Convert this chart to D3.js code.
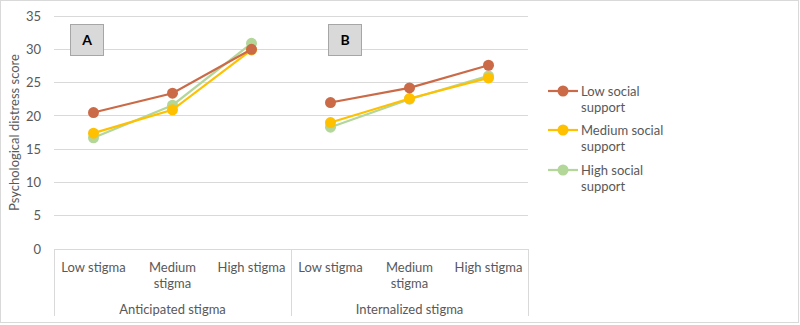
<!DOCTYPE html>
<html><head><meta charset="utf-8">
<script src="https://cdn.jsdelivr.net/npm/d3@7"></script>
<style>
body{margin:0;background:#fff;}
text{font-family:Lato,"Open Sans",sans-serif;}
</style></head>
<body><svg id="c" width="800" height="325"></svg>
<script>
const groups = ["Anticipated stigma", "Internalized stigma"];
const levels = ["Low stigma", "Medium stigma", "High stigma"];
const seriesNames = ["Low social support", "Medium social support", "High social support"];
const lowSupport = [20.5, 23.4, 30.0, 22.0, 24.2, 27.6];
const mediumSupport = [17.4, 20.9, 29.9, 19.0, 22.6, 25.7];
const highSupport = [16.7, 21.6, 30.9, 18.3, 22.5, 26.0];
const yTicks = [0, 5, 10, 15, 20, 25, 30, 35];
const panelLabels = ["A", "B"];
const colors = ["#CB6A47", "#FFC000", "#B3D699"];

const svg = d3.select("#c");
svg.append("rect").attr("x",0.5).attr("y",0.5).attr("width",798).attr("height",322)
  .attr("fill","#fff").attr("stroke","#D9D9D9");

const L=54, R=528, T=16, B=249;
const cats = [];
groups.forEach(g=>levels.forEach(l=>cats.push(g+"|"+l)));
const x = d3.scaleBand().domain(cats).range([L,R]);
const gx = d3.scaleBand().domain(groups).range([L,R]);
const y = d3.scaleLinear().domain([0,35]).range([B,T]);

// gridlines
svg.append("g").selectAll("line").data(yTicks).join("line")
  .attr("x1",L).attr("x2",R).attr("y1",d=>y(d)).attr("y2",d=>y(d))
  .attr("stroke","#D9D9D9").attr("stroke-width",1).attr("shape-rendering","crispEdges");

// y axis labels
const yAxis = d3.axisLeft(y).tickValues(yTicks).tickSize(0).tickPadding(0);
const ya = svg.append("g").attr("transform",`translate(${L-13},0)`).call(yAxis);
ya.select(".domain").remove();
ya.selectAll("text").attr("fill","#595959").style("font-size","13px").style("font-family","Lato");

svg.append("text").attr("transform",`translate(19,${(T+B)/2}) rotate(-90)`)
  .attr("text-anchor","middle").attr("fill","#595959").style("font-size","13px")
  .text("Psychological distress score");

// category axis separators
const seps = [L, gx(groups[1]), R];
svg.append("g").selectAll("line").data(seps).join("line")
  .attr("x1",d=>d).attr("x2",d=>d).attr("y1",B).attr("y2",316)
  .attr("stroke","#D9D9D9").attr("shape-rendering","crispEdges");

// category labels
const catG = svg.append("g");
cats.forEach(c=>{
  const lab = c.split("|")[1];
  const cx = x(c)+x.bandwidth()/2;
  const t = catG.append("text").attr("x",cx).attr("y",272).attr("text-anchor","middle")
    .attr("fill","#595959").style("font-size","13px");
  if(lab.startsWith("Medium")){
    t.append("tspan").attr("x",cx).attr("dy",0).text("Medium");
    t.append("tspan").attr("x",cx).attr("dy",16).text("stigma");
  } else t.text(lab);
});
svg.append("g").selectAll("text").data(groups).join("text")
  .attr("x",d=>gx(d)+gx.bandwidth()/2).attr("y",314).attr("text-anchor","middle")
  .attr("fill","#595959").style("font-size","13px").text(d=>d);

// series
const series = [lowSupport, mediumSupport, highSupport];
const line = d3.line().x((d,i)=>x(cats[i])+x.bandwidth()/2).y(d=>y(d));
[2,1,0].forEach(si=>{
  const vals = series[si];
  groups.forEach((g,gi)=>{
    const idx=[gi*3,gi*3+1,gi*3+2];
    const pts = idx.map(i=>[x(cats[i])+x.bandwidth()/2, y(vals[i])]);
    svg.append("path").attr("d",d3.line()(pts)).attr("fill","none")
      .attr("stroke",colors[si]).attr("stroke-width",2.2);
    svg.append("g").selectAll("circle").data(pts).join("circle")
      .attr("cx",d=>d[0]).attr("cy",d=>d[1]).attr("r",5.5).attr("fill",colors[si]);
  });
});

// panel labels
const boxPos = [[70,24],[328,24]];
panelLabels.forEach((p,i)=>{
  svg.append("rect").attr("x",boxPos[i][0]+0.5).attr("y",boxPos[i][1]+0.5).attr("width",33).attr("height",31)
    .attr("fill","#D9D9D9").attr("stroke","#A6A6A6");
  svg.append("text").attr("x",boxPos[i][0]+17).attr("y",boxPos[i][1]+21).attr("text-anchor","middle")
    .attr("fill","#000").style("font-size","14px").style("font-weight","bold").text(p);
});

// legend
const legY=[91,130,170];
seriesNames.forEach((n,i)=>{
  const g = svg.append("g");
  g.append("line").attr("x1",548).attr("x2",578).attr("y1",legY[i]).attr("y2",legY[i])
    .attr("stroke",colors[i]).attr("stroke-width",2.2);
  g.append("circle").attr("cx",563).attr("cy",legY[i]).attr("r",5.5).attr("fill",colors[i]);
  const words = n.split(" ");
  const t = g.append("text").attr("x",581).attr("y",legY[i]+5).attr("fill","#595959").style("font-size","13px");
  t.append("tspan").attr("x",581).text(words.slice(0,2).join(" "));
  t.append("tspan").attr("x",581).attr("dy",16).text(words.slice(2).join(" "));
});
</script></body></html>
